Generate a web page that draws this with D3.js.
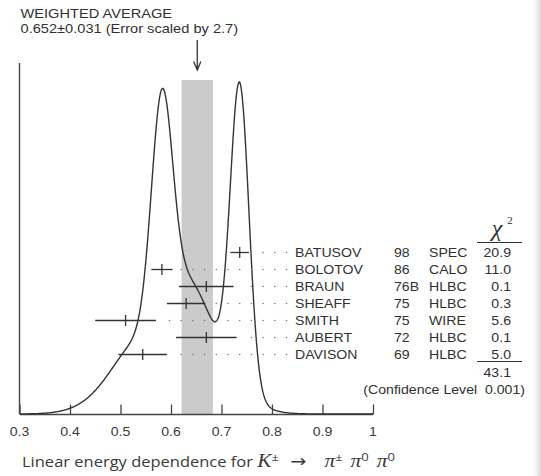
<!DOCTYPE html>
<html>
<head>
<meta charset="utf-8">
<script src="https://cdn.jsdelivr.net/npm/d3@7"></script>
<style>
  html, body { margin: 0; padding: 0; background: #fff; }
  svg { display: block; }
  text { font-family: "Liberation Sans", Arial, Helvetica, sans-serif; fill: #303030; }
</style>
</head>
<body>
<svg id="chart" width="541" height="476"></svg>
<script>
// Linear energy dependence g for K± → π±π0π0: individual measurements
const authors    = ["BATUSOV", "BOLOTOV", "BRAUN", "SHEAFF", "SMITH", "AUBERT", "DAVISON"];
const years      = ["98", "86", "76B", "75", "75", "72", "69"];
const techniques = ["SPEC", "CALO", "HLBC", "HLBC", "WIRE", "HLBC", "HLBC"];
const values     = [0.736, 0.582, 0.670, 0.630, 0.510, 0.670, 0.544];
const errors     = [0.0184, 0.021, 0.054, 0.038, 0.060, 0.060, 0.048];
const chi2       = ["20.9", "11.0", "0.1", "0.3", "5.6", "0.1", "5.0"];
const chi2Total  = "43.1";
const confidenceLevel = "0.001";
const average = 0.652, averageError = 0.031, errorScale = 2.7;
const xTicks = [0.3, 0.4, 0.5, 0.6, 0.7, 0.8, 0.9, 1];

const svg = d3.select("#chart");
const SX = 1.13;           // horizontal stretch of the lettering
const ink = "#333";

const x = d3.scaleLinear().domain([0.3, 1]).range([19.5, 373]);
const rowY = d3.scaleLinear().domain([0, authors.length - 1]).range([252.5, 354.5]);
const baseY = 414;

function label(g, px, py, str, anchor, size, sx) {
  return g.append("text")
    .attr("transform", `translate(${px},${py}) scale(${sx || SX},1)`)
    .attr("text-anchor", anchor || "start")
    .style("font-size", (size || 12.5) + "px")
    .text(str);
}

// faint page edge on the right
const grad = svg.append("defs").append("linearGradient").attr("id", "edge");
grad.append("stop").attr("offset", "0%").attr("stop-color", "#fff").attr("stop-opacity", 0);
grad.append("stop").attr("offset", "100%").attr("stop-color", "#d6d6d6");
svg.append("rect").attr("x", 530).attr("y", 0).attr("width", 11).attr("height", 476).attr("fill", "url(#edge)");

// ideogram: each measurement is a Gaussian of area proportional to 1/sigma
const samples = d3.range(0.3, 1.0005, 0.001);
const ideogram = samples.map(v => ({
  v,
  d: d3.sum(values, (m, i) => Math.exp(-0.5 * ((v - m) / errors[i]) ** 2) / (errors[i] * errors[i]))
}));
const y = d3.scaleLinear().domain([0, d3.max(ideogram, p => p.d)]).range([baseY, 82]);

// weighted average band
svg.append("rect")
  .attr("x", x(average - averageError))
  .attr("width", x(average + averageError) - x(average - averageError))
  .attr("y", 80).attr("height", baseY - 80)
  .attr("fill", "#cbcbcb");

// arrow pointing at the average
const ax = x(average);
svg.append("path")
  .attr("d", `M${ax},40 V70 M${ax - 3.6},61.5 L${ax},70 L${ax + 3.6},61.5`)
  .attr("fill", "none").attr("stroke", ink).attr("stroke-width", 1.3);

// axes
svg.append("line").attr("x1", 19.5).attr("x2", 19.5).attr("y1", 63).attr("y2", baseY)
  .attr("stroke", "#444").attr("stroke-width", 1.4);
const xAxis = d3.axisBottom(x).tickValues(xTicks).tickSize(0).tickFormat("");
const axisG = svg.append("g").attr("transform", `translate(0,${baseY})`).call(xAxis);
axisG.select(".domain").attr("stroke", "#444").attr("stroke-width", 1.4);
axisG.selectAll(".tick line").remove();
axisG.selectAll(".tick").append("line")
  .attr("y1", 0).attr("y2", -9.5).attr("stroke", "#444").attr("stroke-width", 1.3);
xTicks.forEach(t => label(svg, x(t), 435.5, d3.format("~g")(t), "middle", 12.5).style("fill", "#3a3a3a"));

// ideogram curve
svg.append("path")
  .datum(ideogram)
  .attr("d", d3.line().x(p => x(p.v)).y(p => y(p.d)))
  .attr("fill", "none").attr("stroke", ink).attr("stroke-width", 1.4);

// measurements with error bars and dotted leaders
const dotEnd = 286.5, dotStep = 11.7;
authors.forEach((name, i) => {
  const cy = rowY(i);
  const x0 = x(values[i] - errors[i]), x1 = x(values[i] + errors[i]);
  const leader = [];
  for (let dx = dotEnd; dx >= x1 + 7; dx -= dotStep) leader.push(dx);
  svg.selectAll(null).data(leader).enter().append("circle")
    .attr("cx", d => d).attr("cy", cy).attr("r", 0.8).attr("fill", "#7a7a7a");
  svg.append("line").attr("x1", x0).attr("x2", x1).attr("y1", cy).attr("y2", cy)
    .attr("stroke", ink).attr("stroke-width", 1.3);
  svg.append("line").attr("x1", x(values[i])).attr("x2", x(values[i]))
    .attr("y1", cy - 5.5).attr("y2", cy + 5.5)
    .attr("stroke", ink).attr("stroke-width", 1.3);

  const by = cy + 4.5;
  label(svg, 295, by, name, "start");
  label(svg, 394, by, years[i], "start");
  label(svg, 429, by, techniques[i], "start");
  label(svg, 511, by, chi2[i], "end");
});

// chi-square header and totals
svg.append("text").attr("x", 497).attr("y", 236).attr("text-anchor", "middle")
  .style("font-family", "'Liberation Serif', 'DejaVu Serif', serif")
  .style("font-style", "italic").style("font-size", "24px").text("χ");
svg.append("text").attr("x", 510).attr("y", 223.5).attr("text-anchor", "middle")
  .style("font-family", "'Liberation Serif', 'DejaVu Serif', serif")
  .style("font-size", "11px").text("2");
svg.append("line").attr("x1", 477).attr("x2", 522).attr("y1", 242.5).attr("y2", 242.5)
  .attr("stroke", ink).attr("stroke-width", 1.2);
svg.append("line").attr("x1", 477).attr("x2", 522).attr("y1", 361.5).attr("y2", 361.5)
  .attr("stroke", ink).attr("stroke-width", 1.2);
label(svg, 511, 377, chi2Total, "end");
label(svg, 525, 394, `(Confidence Level\u00a0\u00a0${confidenceLevel})`, "end");

// title
label(svg, 20.5, 18, "WEIGHTED AVERAGE", "start", 12.5, 1.17);
label(svg, 20.5, 33, `${average}±${averageError} (Error scaled by ${errorScale})`, "start", 12.5, 1.17);

// quantity caption
const cap = svg.append("text")
  .attr("transform", `translate(22,467) scale(${SX},1)`)
  .style("font-family", "'Open Sans', 'Noto Sans', sans-serif")
  .style("font-size", "14.6px").style("fill", "#3a3a3a");
const serifIt = "font-family:'Liberation Serif','DejaVu Serif',serif;font-style:italic;font-size:19px";
const sup = "font-size:11.5px";
cap.append("tspan").text("Linear energy dependence for ");
cap.append("tspan").attr("style", serifIt).text("K");
cap.append("tspan").attr("dy", -6).attr("style", sup).text("±");
cap.append("tspan").attr("dy", 6).attr("dx", 10)
  .attr("style", "font-family:'DejaVu Sans',sans-serif;font-size:17px").text("→");
cap.append("tspan").attr("dx", 16).attr("style", serifIt).text("π");
cap.append("tspan").attr("dy", -6).attr("style", sup).text("±");
cap.append("tspan").attr("dy", 6).attr("dx", 7).attr("style", serifIt).text("π");
cap.append("tspan").attr("dy", -6).attr("style", sup).text("0");
cap.append("tspan").attr("dy", 6).attr("dx", 7).attr("style", serifIt).text("π");
cap.append("tspan").attr("dy", -6).attr("style", sup).text("0");
</script>
</body>
</html>
